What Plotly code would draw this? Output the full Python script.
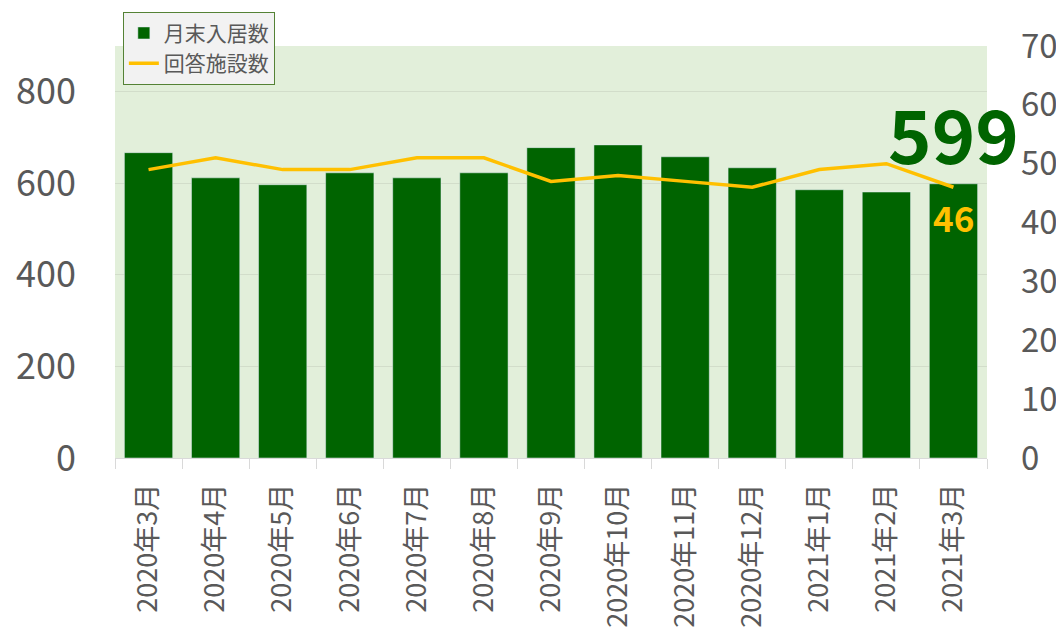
import plotly.graph_objects as go

categories = ["2020年3月", "2020年4月", "2020年5月", "2020年6月", "2020年7月", "2020年8月",
              "2020年9月", "2020年10月", "2020年11月", "2020年12月", "2021年1月", "2021年2月", "2021年3月"]
residents = [667, 612, 597, 623, 612, 623, 678, 684, 658, 634, 586, 581, 599]
facilities = [49, 51, 49, 49, 51, 51, 47, 48, 47, 46, 49, 50, 46]

bar_name = "月末入居数"
line_name = "回答施設数"

DARK_GREEN = "#006400"
GOLD = "#FFC000"
GREY = "#595959"
FONT = "Noto Sans CJK JP"

fig = go.Figure()
fig.add_trace(go.Bar(x=categories, y=residents, name=bar_name, marker_color=DARK_GREEN,
                     width=0.72, yaxis="y"))
fig.add_trace(go.Scatter(x=categories, y=facilities, name=line_name, mode="lines",
                         line=dict(color=GOLD, width=3.5), yaxis="y2"))

fig.add_annotation(x=categories[-1], y=residents[-1], xref="x", yref="y",
                   text=str(residents[-1]), showarrow=False, yshift=52, yanchor="middle",
                   font=dict(family=FONT, size=74, color=DARK_GREEN, weight="bold"))
fig.add_annotation(x=categories[-1], y=facilities[-1], xref="x", yref="y2",
                   text=str(facilities[-1]), showarrow=False, yshift=-29, yanchor="middle",
                   font=dict(family=FONT, size=35, color=GOLD, weight="bold"))

fig.update_layout(
    width=1056, height=631,
    margin=dict(l=107, r=77, t=38, b=181, autoexpand=False),
    paper_bgcolor="white",
    plot_bgcolor="#e2efda",
    font=dict(family=FONT, color=GREY),
    xaxis=dict(
        range=[-0.5, len(categories) - 0.5],
        tickangle=-90, tickfont=dict(size=27, color=GREY),
        ticks="outside", tickson="boundaries", ticklen=10, tickcolor="#d9d9d9",
        showline=True, linecolor="#d9d9d9", showgrid=False,
        ticklabelstandoff=14, automargin=False,
    ),
    yaxis=dict(
        range=[0, 900], tickvals=[0, 200, 400, 600, 800],
        tickfont=dict(size=36, color=GREY), showgrid=True, gridcolor="#d2ddca",
        gridwidth=1, zeroline=False, ticklabelstandoff=38, automargin=False,
    ),
    yaxis2=dict(
        range=[0, 70], dtick=10, overlaying="y", side="right",
        tickfont=dict(size=33, color=GREY), showgrid=False, zeroline=False,
        ticklabelstandoff=33, automargin=False,
    ),
    showlegend=True,
    legend=dict(
        x=0.009, y=1.083, xanchor="left", yanchor="top",
        bgcolor="#f2f2f2", bordercolor="#548235", borderwidth=1,
        font=dict(size=21, color=GREY, family=FONT),
        itemwidth=30, tracegroupgap=0,
    ),
)

fig.write_html("out.html")
